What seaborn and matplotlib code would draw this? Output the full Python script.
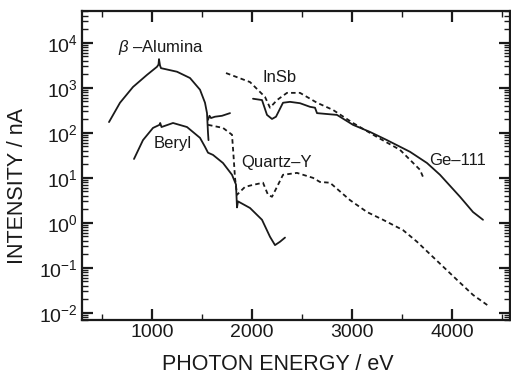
import numpy as np
import matplotlib
matplotlib.use("Agg")
import matplotlib.pyplot as plt
import seaborn as sns
from matplotlib.ticker import FixedLocator, NullFormatter, LogFormatterSciNotation

sns.set_style("ticks")
plt.rcParams["font.family"] = ["Liberation Sans", "DejaVu Sans"]
plt.rcParams["mathtext.fontset"] = "custom"
plt.rcParams["mathtext.rm"] = "Liberation Sans"
plt.rcParams["mathtext.it"] = "Liberation Sans:italic"

# Photon energy (eV) and intensity (nA) for each monochromator crystal
alumina_ev = [570, 680, 810, 950, 1050, 1065, 1070, 1080, 1090, 1250, 1380, 1480, 1530, 1550, 1560, 1565]
alumina_na = [174, 468, 1050, 1950, 2950, 3310, 4370, 3160, 2750, 2290, 1660, 912, 468, 275, 100, 69]

alumina_tail_ev = [1560, 1575, 1590, 1630, 1700, 1780]
alumina_tail_na = [195, 240, 214, 229, 240, 275]

beryl_ev = [820, 910, 1010, 1075, 1082, 1095, 1210, 1350, 1480, 1530, 1560, 1610, 1710, 1800,
            1840, 1850, 1860, 1980, 2100, 2180, 2230, 2280, 2330]
beryl_na = [26.3, 69.2, 129, 151, 166, 135, 166, 135, 77.6, 49.0, 36.3, 32.4, 21.4, 11.7,
            7.1, 2.2, 3.0, 2.14, 1.17, 0.49, 0.32, 0.38, 0.47]

quartz_ev = [1560, 1710, 1800, 1815, 1830, 1850, 1880, 1930, 2000, 2110, 2160, 2200, 2250, 2310,
             2450, 2610, 2680, 2780, 2980, 3150, 3310, 3510, 3650, 3810, 4050, 4210, 4360]
quartz_na = [151, 129, 91, 31.6, 10.0, 4.2, 4.9, 6.3, 6.9, 7.8, 4.2, 3.8, 6.3, 11.7,
             12.9, 10.0, 8.1, 7.8, 3.2, 1.74, 1.17, 0.69, 0.38, 0.174, 0.054, 0.025, 0.0145]

insb_ev = [1740, 1980, 2130, 2180, 2250, 2350, 2480, 2650, 2810, 3010, 3250, 3480, 3680, 3710]
insb_na = [2140, 1350, 631, 363, 537, 776, 776, 468, 324, 166, 81, 42, 15.1, 10.5]

ge_ev = [2010, 2100, 2150, 2200, 2240, 2310, 2380, 2480, 2580, 2630, 2650, 2850, 3010, 3180,
         3350, 3580, 3750, 3880, 4080, 4210, 4310]
ge_na = [575, 537, 251, 204, 229, 468, 490, 457, 380, 363, 275, 251, 151, 105,
         69, 38, 21.4, 11.7, 3.8, 1.74, 1.17]

curve_labels = ["$\\beta$ \u2013Alumina", "InSb", "Beryl", "Quartz\u2013Y", "Ge\u2013111"]
label_ev = [1090, 2280, 1210, 2250, 4060]
label_na = [7900, 1700, 58, 22, 24]

x_major = [1000, 2000, 3000, 4000]
x_minor = [500, 1500, 2500, 3500, 4500]
y_decades = [-2, -1, 0, 1, 2, 3, 4]

fig = plt.figure(figsize=(5.11, 3.74), dpi=100)
ax = fig.add_axes([82 / 511, 54 / 374, 428 / 511, 309 / 374])

line_kw = dict(ax=ax, color="#1a1a1a", sort=False, estimator=None, linewidth=1.3, legend=False)
sns.lineplot(x=alumina_ev, y=alumina_na, **line_kw)
sns.lineplot(x=alumina_tail_ev, y=alumina_tail_na, **line_kw)
sns.lineplot(x=beryl_ev, y=beryl_na, **line_kw)
sns.lineplot(x=ge_ev, y=ge_na, **line_kw)
for xs, ys in [(quartz_ev, quartz_na), (insb_ev, insb_na)]:
    l = sns.lineplot(x=xs, y=ys, **line_kw).lines[-1]
    l.set_dashes((2.5, 1.8))

ax.set_yscale("log")
ax.set_xlim(300, 4580)
ax.set_ylim(10 ** -2.16, 10 ** 4.71)

ax.xaxis.set_major_locator(FixedLocator(x_major))
ax.xaxis.set_minor_locator(FixedLocator(x_minor))
y_major = [10.0 ** d for d in y_decades]
y_minor = [m * 10.0 ** d for d in range(-3, 5) for m in range(2, 10)
           if 10 ** -2.16 < m * 10.0 ** d < 10 ** 4.71]
ax.yaxis.set_major_locator(FixedLocator(y_major))
ax.yaxis.set_major_formatter(LogFormatterSciNotation())
ax.yaxis.set_minor_locator(FixedLocator(y_minor))
ax.yaxis.set_minor_formatter(NullFormatter())

ax.tick_params(which="both", direction="in", top=True, right=True, colors="#1a1a1a",
               labelsize=14, pad=3)
ax.tick_params(which="major", length=8, width=1.6)
ax.tick_params(which="minor", length=4, width=1.0)
for s in ax.spines.values():
    s.set_linewidth(1.6)
    s.set_color("#1a1a1a")

ax.set_xlabel("PHOTON ENERGY / eV", fontsize=15.5, color="#1a1a1a", va="center")
ax.set_ylabel("INTENSITY / nA", fontsize=15.5, color="#1a1a1a", va="center")
ax.xaxis.set_label_coords(0.458, -0.143)
ax.yaxis.set_label_coords(-0.15, 0.435)

for txt, xv, yv in zip(curve_labels, label_ev, label_na):
    ax.text(xv, yv, txt, fontsize=12, ha="center", va="center", color="#1a1a1a")

fig.savefig("out.png", dpi=100)
